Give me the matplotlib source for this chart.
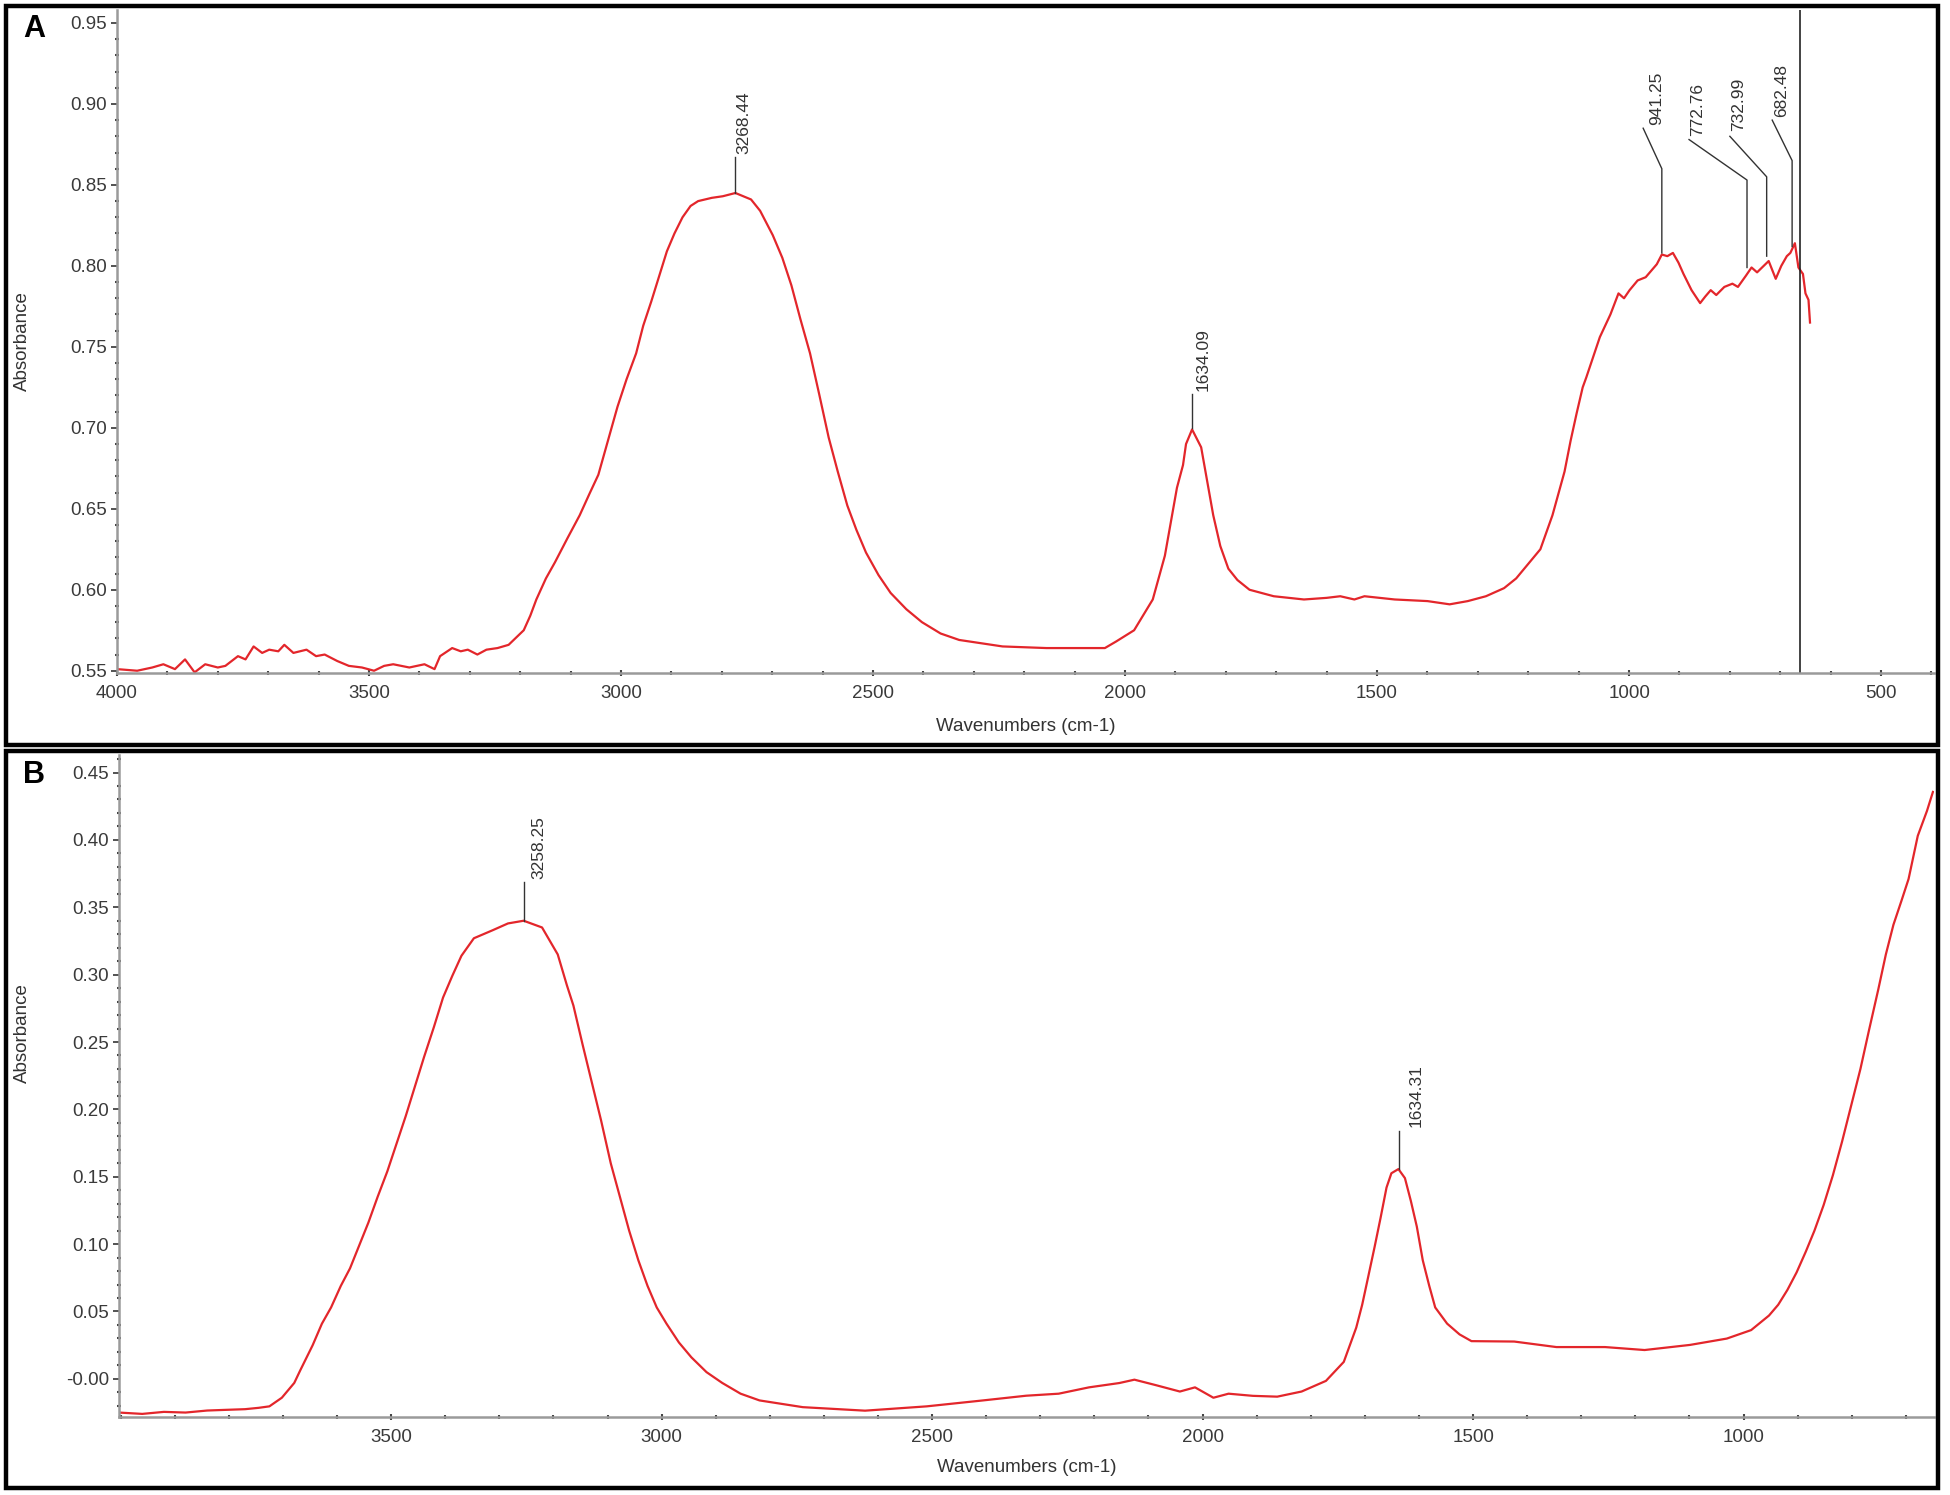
import numpy as np
import matplotlib
matplotlib.use('Agg')
import matplotlib.pyplot as plt
from matplotlib.ticker import MultipleLocator, FormatStrFormatter
from matplotlib.patches import Rectangle

plt.rcParams['font.family'] = ['Liberation Sans', 'DejaVu Sans']

# ---- panel A spectrum: (wavenumber on drawn axis, absorbance) ----
spec_a = [
    (4000, 0.551), (3960, 0.550), (3930, 0.552), (3908, 0.554), (3885, 0.551),
    (3865, 0.557), (3846, 0.549), (3825, 0.554), (3800, 0.552), (3785, 0.553),
    (3760, 0.559), (3745, 0.557), (3729, 0.565), (3712, 0.561), (3698, 0.563),
    (3680, 0.562), (3668, 0.566), (3650, 0.561), (3624, 0.563), (3605, 0.559),
    (3588, 0.560), (3563, 0.556), (3540, 0.553), (3514, 0.552), (3490, 0.550),
    (3470, 0.553), (3452, 0.554), (3420, 0.552), (3390, 0.554), (3370, 0.551),
    (3359, 0.559), (3335, 0.564), (3318, 0.562), (3304, 0.563), (3285, 0.560),
    (3267, 0.563), (3245, 0.564), (3223, 0.566), (3193, 0.575), (3180, 0.584),
    (3168, 0.594), (3149, 0.607), (3131, 0.617), (3106, 0.632), (3082, 0.646),
    (3063, 0.659), (3045, 0.671), (3026, 0.692), (3007, 0.713), (2989, 0.730),
    (2970, 0.746), (2956, 0.763), (2940, 0.778), (2924, 0.794), (2909, 0.809),
    (2894, 0.820), (2878, 0.830), (2862, 0.837), (2847, 0.840), (2820, 0.842),
    (2798, 0.843), (2773, 0.845), (2742, 0.841), (2724, 0.834), (2699, 0.819),
    (2680, 0.805), (2662, 0.788), (2644, 0.767), (2625, 0.746), (2607, 0.721),
    (2588, 0.694), (2570, 0.673), (2551, 0.652), (2533, 0.637), (2514, 0.623),
    (2489, 0.609), (2465, 0.598), (2434, 0.588), (2403, 0.580), (2366, 0.573),
    (2329, 0.569), (2243, 0.565), (2156, 0.564), (2097, 0.564), (2040, 0.564),
    (2018, 0.568), (1982, 0.575), (1945, 0.594), (1921, 0.621), (1909, 0.642),
    (1897, 0.663), (1885, 0.677), (1879, 0.690), (1867, 0.699), (1849, 0.688),
    (1837, 0.667), (1825, 0.646), (1811, 0.627), (1795, 0.613), (1777, 0.606),
    (1753, 0.600), (1705, 0.596), (1645, 0.594), (1600, 0.595), (1573, 0.596),
    (1545, 0.594), (1525, 0.596), (1465, 0.594), (1400, 0.593), (1356, 0.591),
    (1320, 0.593), (1284, 0.596), (1248, 0.601), (1224, 0.607), (1200, 0.616),
    (1176, 0.625), (1152, 0.646), (1128, 0.673), (1116, 0.692), (1104, 0.709),
    (1092, 0.725), (1085, 0.731), (1058, 0.756), (1037, 0.770), (1021, 0.783),
    (1010, 0.780), (999, 0.785), (983, 0.791), (967, 0.793), (956, 0.797),
    (945, 0.801), (935, 0.807), (924, 0.806), (913, 0.808), (902, 0.802),
    (892, 0.795), (876, 0.785), (859, 0.777), (849, 0.781), (838, 0.785),
    (827, 0.782), (811, 0.787), (795, 0.789), (784, 0.787), (768, 0.794),
    (757, 0.799), (746, 0.796), (733, 0.800), (723, 0.803), (709, 0.792),
    (698, 0.800), (687, 0.806), (680, 0.808), (671, 0.814), (664, 0.799),
    (655, 0.795), (650, 0.783), (644, 0.779), (641, 0.765),
]

# ---- panel B spectrum ----
spec_b = [
    (4003, -0.025), (3960, -0.026), (3920, -0.0245), (3880, -0.025), (3840, -0.0235),
    (3806, -0.023), (3770, -0.0225), (3745, -0.0215), (3725, -0.0204), (3702, -0.014),
    (3679, -0.003), (3668, 0.0063), (3645, 0.025), (3628, 0.0409), (3611, 0.053),
    (3593, 0.069), (3576, 0.082), (3542, 0.116), (3525, 0.135), (3507, 0.154),
    (3473, 0.195), (3456, 0.217), (3439, 0.239), (3421, 0.261), (3404, 0.283),
    (3387, 0.299), (3370, 0.314), (3347, 0.327), (3312, 0.333), (3284, 0.338),
    (3255, 0.340), (3221, 0.335), (3192, 0.315), (3175, 0.292), (3163, 0.277),
    (3146, 0.248), (3129, 0.220), (3112, 0.192), (3094, 0.160), (3077, 0.135),
    (3060, 0.110), (3043, 0.088), (3026, 0.069), (3009, 0.053), (2991, 0.041),
    (2968, 0.027), (2945, 0.016), (2917, 0.005), (2888, -0.003), (2854, -0.011),
    (2819, -0.016), (2739, -0.021), (2624, -0.0236), (2510, -0.0204), (2406, -0.016),
    (2326, -0.0125), (2266, -0.011), (2210, -0.0063), (2154, -0.0031), (2126, -0.0006),
    (2086, -0.0047), (2042, -0.0094), (2014, -0.0063), (1980, -0.014), (1952, -0.011),
    (1907, -0.0126), (1862, -0.0132), (1817, -0.0094), (1772, -0.0015), (1739, 0.0126),
    (1716, 0.038), (1705, 0.055), (1694, 0.0755), (1682, 0.098), (1671, 0.1195),
    (1660, 0.142), (1651, 0.1526), (1638, 0.1557), (1626, 0.149), (1615, 0.132),
    (1604, 0.113), (1593, 0.088), (1581, 0.069), (1570, 0.053), (1548, 0.041),
    (1525, 0.033), (1503, 0.028), (1424, 0.0277), (1346, 0.0236), (1256, 0.0236),
    (1183, 0.0214), (1099, 0.0252), (1031, 0.0299), (986, 0.0362), (953, 0.047),
    (936, 0.055), (919, 0.066), (902, 0.079), (885, 0.0944), (869, 0.110),
    (852, 0.129), (835, 0.151), (818, 0.176), (801, 0.203), (784, 0.230),
    (768, 0.259), (751, 0.289), (737, 0.315), (723, 0.337), (708, 0.355),
    (695, 0.371), (678, 0.403), (661, 0.4215), (650, 0.4356),
]

wn_a, abs_a = zip(*spec_a)
wn_b, abs_b = zip(*spec_b)

# tick values / labels
xticks_a = [4000, 3500, 3000, 2500, 2000, 1500, 1000, 500]
yticks_a = [0.55, 0.60, 0.65, 0.70, 0.75, 0.80, 0.85, 0.90, 0.95]
xticks_b = [3500, 3000, 2500, 2000, 1500, 1000]
yticks_b = [0.00, 0.05, 0.10, 0.15, 0.20, 0.25, 0.30, 0.35, 0.40, 0.45]
ylabels_b = ['-0.00', '0.05', '0.10', '0.15', '0.20', '0.25', '0.30', '0.35', '0.40', '0.45']

# peak markers: label, leader-line x points, y points, text anchor
peaks_a = [
    ('3268.44', [2773, 2773], [0.845, 0.867], (2757, 0.869)),
    ('1634.09', [1867, 1867], [0.700, 0.721], (1845, 0.723)),
    ('941.25', [935, 935, 972], [0.808, 0.860, 0.885], (945, 0.887)),
    ('772.76', [766, 766, 881], [0.799, 0.853, 0.878], (864, 0.880)),
    ('732.99', [727, 727, 800], [0.806, 0.855, 0.880], (782, 0.883)),
    ('682.48', [676.5, 676.5, 716], [0.812, 0.865, 0.890], (697, 0.892)),
]
peaks_b = [
    ('3258.25', [3255, 3255], [0.340, 0.369], (3226, 0.371)),
    ('1634.31', [1637.5, 1637.5], [0.156, 0.184], (1606, 0.187)),
]
cursor_a = 661

W, H = 1950, 1495
fig = plt.figure(figsize=(W / 100, H / 100), dpi=100)


def box(x0, y0, x1, y1):
    # pixel box -> figure fraction [left, bottom, width, height]
    return [x0 / W, 1 - y1 / H, (x1 - x0) / W, (y1 - y0) / H]


def style(ax):
    for s in ['top', 'right']:
        ax.spines[s].set_visible(False)
    for s in ['left', 'bottom']:
        ax.spines[s].set_color('#9a9a9a')
        ax.spines[s].set_linewidth(1.8)
    ax.tick_params(which='major', axis='y', direction='out', length=4,
                   width=1.3, color='#444', labelsize=13.5,
                   labelcolor='#3a3a3a', pad=3)
    ax.tick_params(which='major', axis='x', direction='inout', length=5,
                   width=1.5, color='#444', labelsize=13.5,
                   labelcolor='#3a3a3a', pad=6)
    ax.tick_params(which='minor', direction='inout', length=3, width=1.5,
                   color='#444')
    ax.xaxis.set_minor_locator(MultipleLocator(100))
    ax.yaxis.set_minor_locator(MultipleLocator(0.01))


line_kw = dict(color='#e3262b', lw=1.6)
ann_kw = dict(color='#333333', lw=1.0)

# ---- panel A ----
axA = fig.add_axes(box(117, 10, 1934, 673))
axA.plot(wn_a, abs_a, **line_kw)
axA.axvline(cursor_a, color='#222222', lw=1.2)
axA.set_xlim(4000, 395)
axA.set_ylim(0.5486, 0.958)
axA.set_xticks(xticks_a)
axA.set_yticks(yticks_a)
axA.yaxis.set_major_formatter(FormatStrFormatter('%.2f'))
style(axA)
for lab, xs, ys, (tx, ty) in peaks_a:
    axA.plot(xs, ys, **ann_kw)
    axA.text(tx, ty, lab, rotation=90, ha='center', va='bottom',
             fontsize=12.5, color='#333333')

# ---- panel B ----
axB = fig.add_axes(box(119, 755, 1934, 1417))
axB.plot(wn_b, abs_b, **line_kw)
axB.set_xlim(4003, 648)
axB.set_ylim(-0.0283, 0.463)
axB.set_xticks(xticks_b)
axB.set_yticks(yticks_b)
axB.set_yticklabels(ylabels_b)
style(axB)
for lab, xs, ys, (tx, ty) in peaks_b:
    axB.plot(xs, ys, **ann_kw)
    axB.text(tx, ty, lab, rotation=90, ha='center', va='bottom',
             fontsize=12.5, color='#333333')

# axis titles and panel letters
fig.text(1026 / W, 1 - 727 / H, 'Wavenumbers (cm-1)', ha='center', va='center',
         fontsize=13.5, color='#333333')
fig.text(1027 / W, 1 - 1468 / H, 'Wavenumbers (cm-1)', ha='center', va='center',
         fontsize=13.5, color='#333333')
fig.text(22 / W, 1 - 341 / H, 'Absorbance', rotation=90, ha='center', va='center',
         fontsize=13.5, color='#333333')
fig.text(22 / W, 1 - 1033 / H, 'Absorbance', rotation=90, ha='center', va='center',
         fontsize=13.5, color='#333333')
fig.text(34 / W, 1 - 29 / H, 'A', ha='center', va='center', fontsize=22,
         fontweight='bold')
fig.text(34 / W, 1 - 775 / H, 'B', ha='center', va='center', fontsize=22,
         fontweight='bold')

# panel frames
for (x0, y0, x1, y1) in [(6, 6, 1938, 745), (6, 751, 1938, 1488)]:
    fig.patches.append(Rectangle((x0 / W, 1 - y1 / H), (x1 - x0) / W, (y1 - y0) / H,
                                 transform=fig.transFigure, fill=False,
                                 edgecolor='black', lw=3.2))

fig.savefig('out.png', dpi=100, facecolor='white')
